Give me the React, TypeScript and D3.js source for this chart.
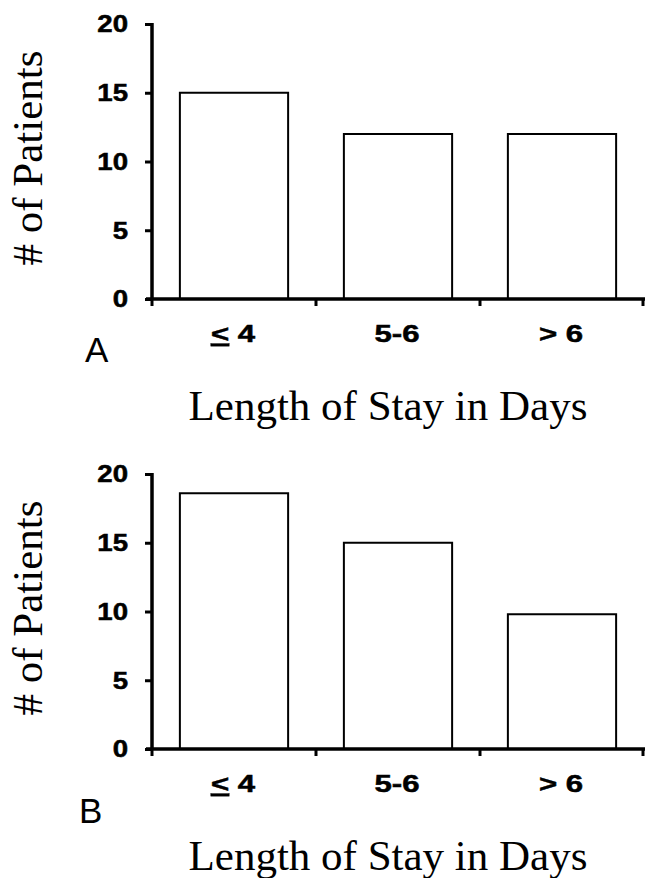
import * as d3 from "d3";
import React, { useEffect, useRef } from "react";

// categories + values
const categories = ["<4", "5-6", "> 6"];
const panelAValues = [15, 12, 12];
const panelBValues = [18.6, 15, 9.8];
const yTicks = [0, 5, 10, 15, 20];
const panelLetters = ["A", "B"];
const xTitle = "Length of Stay in Days";
const yTitle = "# of Patients";

const W = 647;
const H = 878;
const letterPos = [
  [85, 362],
  [79, 373],
];
const boldFont = "Liberation Sans, Arial, sans-serif";
const serifFont = "Liberation Serif, Times New Roman, serif";

const App = () => {
  const svgRef = useRef<SVGSVGElement | null>(null);

  useEffect(() => {
    const svgEl = d3.select(svgRef.current);
    svgEl.selectAll("*").remove();

    const panels = [panelAValues, panelBValues];
    const panelH = 450;

    panels.forEach((values, pi) => {
      const g = svgEl.append("g").attr("transform", "translate(0," + pi * panelH + ")");

      // scales
      const xScale = d3.scaleBand().domain(categories).range([152, 644]).padding(0);
      const yScale = d3.scaleLinear().domain([0, 20]).range([299, 24]);
      const barW = xScale.bandwidth() * 0.66;

      // bars
      g.selectAll("rect")
        .data(values)
        .enter()
        .append("rect")
        .attr("x", (d, i) => (xScale(categories[i]) as number) + (xScale.bandwidth() - barW) / 2)
        .attr("y", (d) => yScale(d))
        .attr("width", barW)
        .attr("height", (d) => yScale(0) - yScale(d))
        .attr("fill", "#fff")
        .attr("stroke", "#000")
        .attr("stroke-width", 2);

      // y axis
      const yAxis = d3.axisLeft(yScale).tickValues(yTicks).tickSize(7).tickFormat(() => "");
      const ya = g.append("g").attr("transform", "translate(152,0)").call(yAxis);
      ya.select(".domain").attr("stroke-width", 3.5).attr("d", "M0," + (yScale(20) - 1) + "V" + yScale(0));
      ya.selectAll(".tick line").attr("stroke-width", 3);

      // y tick labels (wide bold face, so stretched horizontally)
      g.selectAll(".ylab")
        .data(yTicks)
        .enter()
        .append("g")
        .attr("class", "ylab")
        .attr("transform", (d) => "translate(128," + yScale(d) + ")")
        .append("text")
        .attr("transform", "scale(1.2,1)")
        .attr("text-anchor", "end")
        .attr("dy", "0.36em")
        .attr("font-family", boldFont)
        .attr("font-weight", "bold")
        .attr("font-size", 23)
        .attr("stroke", "#000")
        .attr("stroke-width", 0.5)
        .text((d) => d);

      // x axis: ticks at band edges
      const ax = g.append("g").attr("transform", "translate(0," + yScale(0) + ")");
      ax.append("line")
        .attr("x1", 146)
        .attr("x2", 645)
        .attr("y1", 0)
        .attr("y2", 0)
        .attr("stroke", "#000")
        .attr("stroke-width", 3.5);
      const edges = categories.map((c) => xScale(c) as number).concat([xScale.range()[1]]);
      ax.selectAll(".edge")
        .data(edges)
        .enter()
        .append("line")
        .attr("class", "edge")
        .attr("x1", (d, i) => (i === edges.length - 1 ? d - 1 : d))
        .attr("x2", (d, i) => (i === edges.length - 1 ? d - 1 : d))
        .attr("y1", 0)
        .attr("y2", 7)
        .attr("stroke", "#000")
        .attr("stroke-width", 3);

      // category labels
      const labels = ax
        .selectAll(".cat")
        .data(categories)
        .enter()
        .append("g")
        .attr("class", "cat")
        .attr("transform", (d) => "translate(" + ((xScale(d) as number) + xScale.bandwidth() / 2 - 1) + ",43)")
        .append("text")
        .attr("transform", "scale(1.3,1)")
        .attr("text-anchor", "middle")
        .attr("font-family", boldFont)
        .attr("font-weight", "bold")
        .attr("font-size", 24)
        .attr("stroke", "#000")
        .attr("stroke-width", 0.5);
      labels.each(function (d) {
        const t = d3.select(this);
        if (d === "<4") {
          t.append("tspan").attr("text-decoration", "underline").text("<");
          t.append("tspan").text(" 4");
        } else {
          t.text(d);
        }
      });

      // panel letter
      g.append("text")
        .attr("x", letterPos[pi][0])
        .attr("y", letterPos[pi][1])
        .attr("font-family", boldFont)
        .attr("font-size", 35)
        .text(panelLetters[pi]);

      // x title
      g.append("text")
        .attr("x", 388)
        .attr("y", 420)
        .attr("text-anchor", "middle")
        .attr("font-family", serifFont)
        .attr("font-size", 43)
        .text(xTitle);

      // y title
      g.append("text")
        .attr("transform", "translate(42,158) rotate(-90)")
        .attr("text-anchor", "middle")
        .attr("font-family", serifFont)
        .attr("font-size", 43)
        .text(yTitle);
    });
  });

  return (
    <svg
      ref={svgRef}
      width={W}
      height={H}
      viewBox={"0 0 " + W + " " + H}
      style={{ position: "absolute", left: 0, top: 0, background: "#fff" }}
    />
  );
};

export default App;
